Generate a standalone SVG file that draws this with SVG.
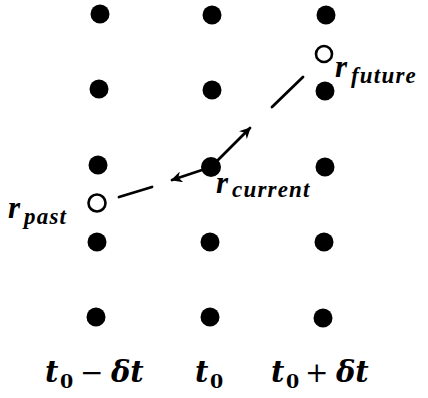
<svg xmlns="http://www.w3.org/2000/svg" width="428" height="398" viewBox="0 0 428 398">
<style>
.dot{fill:#000}
.open{fill:#fff;stroke:#000;stroke-width:2.6}
.ln{stroke:#000;stroke-width:2.8;fill:none;stroke-linecap:round}
.lab{font-family:"Liberation Serif",serif;font-style:italic;font-weight:bold;fill:#000}
.r{font-size:31px}
.sub{font-size:23px;letter-spacing:1.2px}
.ax{font-family:"DejaVu Serif",serif;font-style:italic;font-weight:bold;fill:#000;font-size:29px}
.up{font-style:normal;font-size:19px}
.op{font-style:normal;font-weight:normal;font-size:28px}
</style>
<defs>
<marker id="ah" viewBox="0 0 10 10" refX="9" refY="5" markerWidth="4.5" markerHeight="4" orient="auto" markerUnits="strokeWidth">
<path d="M0,0 L10,5 L0,10 L3,5 z" fill="#000"/>
</marker>
</defs>
<rect width="428" height="398" fill="#fff"/>
<g id="lattice">
<circle class="dot" cx="100" cy="14" r="9.5"/>
<circle class="dot" cx="212" cy="15" r="9.5"/>
<circle class="dot" cx="326" cy="15" r="9.5"/>
<circle class="dot" cx="99" cy="89" r="9.5"/>
<circle class="dot" cx="212" cy="90" r="9.5"/>
<circle class="dot" cx="325" cy="91" r="9.5"/>
<circle class="dot" cx="98" cy="165" r="9.5"/>
<circle class="dot" cx="325" cy="167" r="9.5"/>
<circle class="dot" cx="97" cy="242" r="9.5"/>
<circle class="dot" cx="210" cy="242" r="9.5"/>
<circle class="dot" cx="324" cy="242" r="9.5"/>
<circle class="dot" cx="96" cy="317" r="9.5"/>
<circle class="dot" cx="210" cy="317" r="9.5"/>
<circle class="dot" cx="323" cy="318" r="9.5"/>
</g>
<g id="connectors">
<line class="ln" x1="272" y1="107" x2="303" y2="77"/>
<line class="ln" x1="119" y1="197" x2="152" y2="187"/>
<line class="ln" x1="211" y1="167" x2="250" y2="128" marker-end="url(#ah)"/>
<line class="ln" x1="211" y1="167" x2="172" y2="180" marker-end="url(#ah)"/>
</g>
<g id="current">
<circle class="dot" cx="211" cy="167" r="10"/>
<text class="lab r" x="216" y="193">r</text>
<text class="lab sub" x="232" y="197">current</text>
</g>
<g id="future">
<circle class="open" cx="324" cy="54" r="8"/>
<text class="lab r" x="335" y="77">r</text>
<text class="lab sub" x="351" y="83">future</text>
</g>
<g id="past">
<circle class="open" cx="97" cy="203" r="8.5"/>
<text class="lab r" x="8" y="218">r</text>
<text class="lab sub" x="24" y="224">past</text>
</g>
<g id="axis">
<text class="ax" y="382"><tspan x="45">t</tspan><tspan class="up" x="60" y="388">0</tspan><tspan class="op" x="80" y="382">−</tspan><tspan x="111">δt</tspan></text>
<text class="ax" y="382"><tspan x="195">t</tspan><tspan class="up" x="210" y="388">0</tspan></text>
<text class="ax" y="382"><tspan x="271">t</tspan><tspan class="up" x="286" y="388">0</tspan><tspan class="op" x="305" y="382">+</tspan><tspan x="336">δt</tspan></text>
</g>
</svg>
